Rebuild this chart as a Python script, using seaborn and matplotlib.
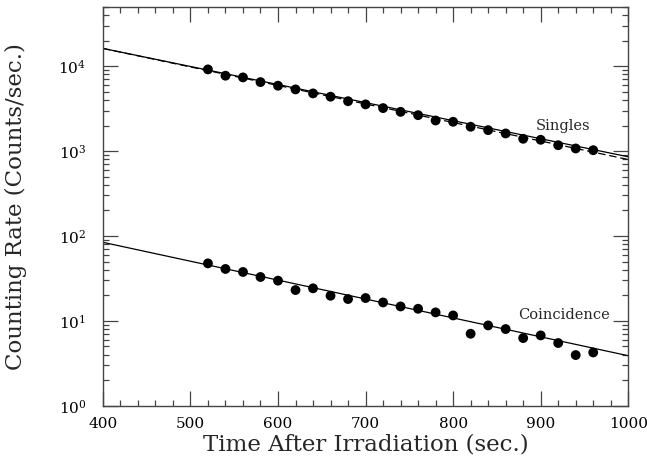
import matplotlib
matplotlib.use('Agg')
import matplotlib.pyplot as plt
import seaborn as sns
import pandas as pd
from matplotlib.ticker import MultipleLocator, LogLocator, LogFormatterMathtext, NullFormatter

# time after irradiation (sec.)
times = [520, 540, 560, 580, 600, 620, 640, 660, 680, 700, 720, 740,
         760, 780, 800, 820, 840, 860, 880, 900, 920, 940, 960]

singles = [9170, 7730, 7380, 6500, 5890, 5330, 4780, 4370, 3870, 3550, 3210, 2900,
           2650, 2294, 2216, 1936, 1766, 1614, 1397, 1359, 1174, 1074, 1025]

coincidence = [47.6, 40.9, 37.7, 32.9, 29.8, 23.1, 24.2, 19.8, 18.1, 18.6, 16.5, 14.8,
               13.9, 12.6, 11.6, 7.06, 8.85, 8.02, 6.28, 6.75, 5.49, 3.96, 4.25]

# fitted exponential decays, end points at t = 400 and t = 1000
fit_t = [400, 1000]
singles_fit = [16200, 857]
singles_fit_alt = [16200, 796]
coinc_fit = [84.3, 3.89]

sns.set_style('ticks')
plt.rcParams['font.family'] = ['DejaVu Serif']
plt.rcParams['mathtext.fontset'] = 'dejavuserif'

fig = plt.figure(figsize=(6.47, 4.57), dpi=100)
ax = fig.add_axes([0.159, 0.112, 0.812, 0.873])

pts = pd.DataFrame({'t': times, 'singles': singles, 'coinc': coincidence})
fits = pd.DataFrame({'t': fit_t, 's': singles_fit, 's2': singles_fit_alt, 'c': coinc_fit})

sns.lineplot(data=fits, x='t', y='s', color='black', lw=0.9, ax=ax)
sns.lineplot(data=fits, x='t', y='s2', color='black', lw=0.9, ax=ax, linestyle=(0, (6, 3)))
sns.lineplot(data=fits, x='t', y='c', color='black', lw=0.9, ax=ax)
sns.scatterplot(data=pts, x='t', y='singles', color='black', s=50, edgecolor='none', ax=ax, zorder=3)
sns.scatterplot(data=pts, x='t', y='coinc', color='black', s=50, edgecolor='none', ax=ax, zorder=3)

ax.set_yscale('log')
ax.set_xlim(400, 1000)
ax.set_ylim(1, 5e4)

ax.xaxis.set_major_locator(MultipleLocator(100))
ax.xaxis.set_minor_locator(MultipleLocator(20))
ax.yaxis.set_major_locator(LogLocator(base=10, numticks=10))
ax.yaxis.set_minor_locator(LogLocator(base=10, subs=range(2, 10), numticks=20))
ax.yaxis.set_major_formatter(LogFormatterMathtext())
ax.yaxis.set_minor_formatter(NullFormatter())

ax.tick_params(which='both', direction='in', top=True, right=True, colors='#444444',
               labelcolor='black', labelsize=11)
ax.tick_params(axis='x', which='major', pad=8)
ax.tick_params(axis='y', which='major', pad=12)
ax.tick_params(which='major', length=11, width=0.9)
ax.tick_params(which='minor', length=4.5, width=0.9)
for sp in ax.spines.values():
    sp.set_color('#444444')
    sp.set_linewidth(1.0)

ax.text(894, 1950, 'Singles', fontsize=10.5, va='center', ha='left')
ax.text(874, 11.6, 'Coincidence', fontsize=10.5, va='center', ha='left')

ax.set_xlabel('Time After Irradiation (sec.)', fontsize=16.5)
ax.set_ylabel('Counting Rate (Counts/sec.)', fontsize=16.5)
ax.xaxis.set_label_coords(0.5, -0.07)
ax.yaxis.set_label_coords(-0.145, 0.5)

fig.savefig('out.png', dpi=100)
